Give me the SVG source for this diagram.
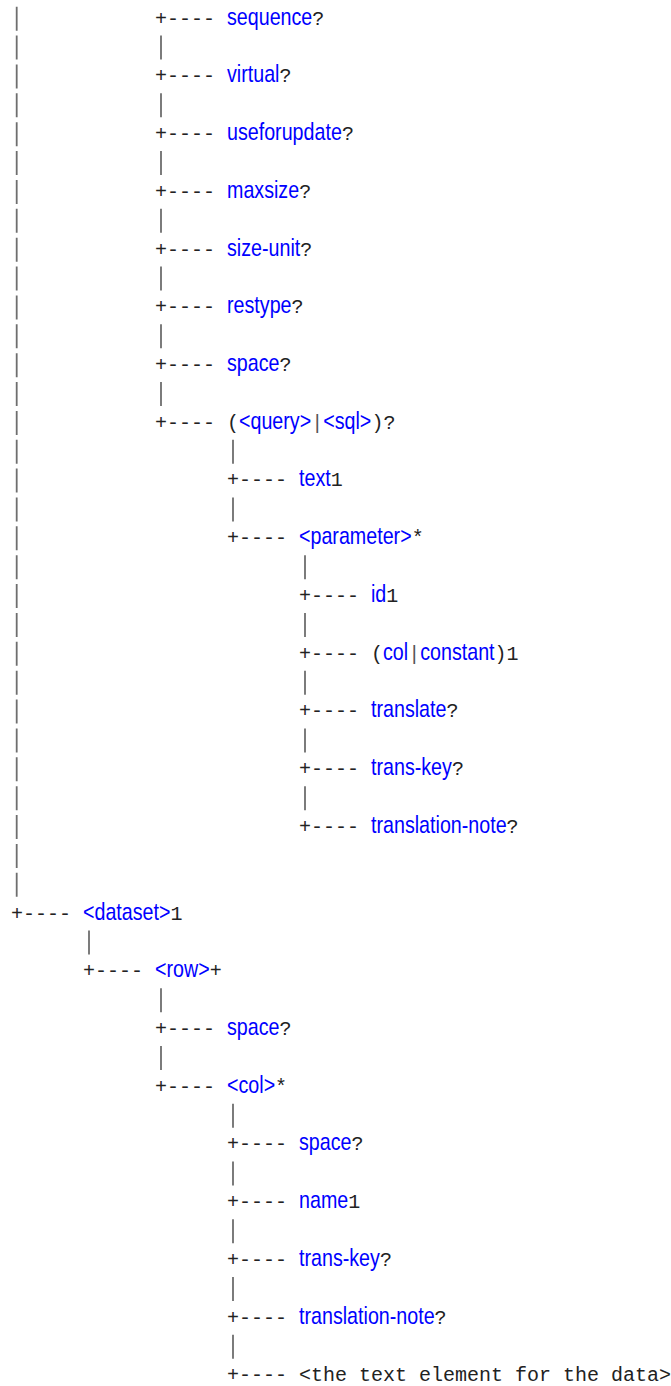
<svg xmlns="http://www.w3.org/2000/svg" width="671" height="1386" viewBox="0 0 671 1386">
<style>
.m{font-family:"Liberation Mono","DejaVu Sans Mono",monospace;font-size:20px;fill:#222;white-space:pre}
.s{font-family:"Liberation Mono","DejaVu Sans Mono",monospace;font-size:20px;fill:#555}
.b{font-family:"Liberation Sans",Arial,sans-serif;font-size:24px;fill:#0000ff}
.bar{stroke:#6e6e6e;stroke-width:1.8;fill:none}
</style>
<rect width="671" height="1386" fill="#fff"/>
<g id="connectors" class="bar">
<path d="M16.7 6.7V896.8" stroke-dasharray="24 4.87"/>
<path d="M161 35.6v24M161 93.3v24M161 151.1v24M161 208.8v24M161 266.5v24M161 324.3v24M161 382v24"/>
<path d="M233 439.8v24M233 497.5v24"/>
<path d="M305 555.2v24M305 613v24M305 670.7v24M305 728.5v24M305 786.2v24"/>
<path d="M89 930.5v24"/>
<path d="M161 988.3v24M161 1046v24"/>
<path d="M233 1103.8v24M233 1161.5v24M233 1219.2v24M233 1277v24M233 1334.7v24"/>
</g>
<g id="n-sequence"><text class="m" x="155" y="24.5">+----</text><text class="b" transform="translate(227 24.5) scale(0.82 1)">sequence</text><text class="m" x="312.3" y="24.5">?</text></g>
<g id="n-virtual"><text class="m" x="155" y="82.2">+----</text><text class="b" transform="translate(227 82.2) scale(0.82 1)">virtual</text><text class="m" x="279.5" y="82.2">?</text></g>
<g id="n-useforupdate"><text class="m" x="155" y="140">+----</text><text class="b" transform="translate(227 140) scale(0.82 1)">useforupdate</text><text class="m" x="341.9" y="140">?</text></g>
<g id="n-maxsize"><text class="m" x="155" y="197.7">+----</text><text class="b" transform="translate(227 197.7) scale(0.82 1)">maxsize</text><text class="m" x="299.2" y="197.7">?</text></g>
<g id="n-size-unit"><text class="m" x="155" y="255.5">+----</text><text class="b" transform="translate(227 255.5) scale(0.82 1)">size-unit</text><text class="m" x="300.3" y="255.5">?</text></g>
<g id="n-restype"><text class="m" x="155" y="313.2">+----</text><text class="b" transform="translate(227 313.2) scale(0.82 1)">restype</text><text class="m" x="291.5" y="313.2">?</text></g>
<g id="n-space1"><text class="m" x="155" y="370.9">+----</text><text class="b" transform="translate(227 370.9) scale(0.82 1)">space</text><text class="m" x="279.5" y="370.9">?</text></g>
<g id="n-query-sql"><text class="m" x="155" y="428.7">+---- (</text><text class="b" transform="translate(239 428.7) scale(0.82 1)">&lt;query&gt;</text><text class="s" x="311.2" y="428.7">|</text><text class="b" transform="translate(323.2 428.7) scale(0.82 1)">&lt;sql&gt;</text><text class="m" x="371.4" y="428.7">)?</text></g>
<g id="n-text"><text class="m" x="227" y="486.4">+----</text><text class="b" transform="translate(299 486.4) scale(0.82 1)">text</text><text class="m" x="330.7" y="486.4">1</text></g>
<g id="n-parameter"><text class="m" x="227" y="544.2">+----</text><text class="b" transform="translate(299 544.2) scale(0.82 1)">&lt;parameter&gt;</text><text class="m" x="411.7" y="544.2">*</text></g>
<g id="n-id"><text class="m" x="299" y="601.9">+----</text><text class="b" transform="translate(371 601.9) scale(0.82 1)">id</text><text class="m" x="386.3" y="601.9">1</text></g>
<g id="n-col-constant"><text class="m" x="299" y="659.6">+---- (</text><text class="b" transform="translate(383 659.6) scale(0.82 1)">col</text><text class="s" x="408.2" y="659.6">|</text><text class="b" transform="translate(420.2 659.6) scale(0.82 1)">constant</text><text class="m" x="494.5" y="659.6">)1</text></g>
<g id="n-translate"><text class="m" x="299" y="717.4">+----</text><text class="b" transform="translate(371 717.4) scale(0.82 1)">translate</text><text class="m" x="446.5" y="717.4">?</text></g>
<g id="n-trans-key1"><text class="m" x="299" y="775.1">+----</text><text class="b" transform="translate(371 775.1) scale(0.82 1)">trans-key</text><text class="m" x="451.9" y="775.1">?</text></g>
<g id="n-translation-note1"><text class="m" x="299" y="832.9">+----</text><text class="b" transform="translate(371 832.9) scale(0.82 1)">translation-note</text><text class="m" x="506.6" y="832.9">?</text></g>
<g id="n-dataset"><text class="m" x="11" y="919.5">+----</text><text class="b" transform="translate(83 919.5) scale(0.82 1)">&lt;dataset&gt;</text><text class="m" x="170.5" y="919.5">1</text></g>
<g id="n-row"><text class="m" x="83" y="977.2">+----</text><text class="b" transform="translate(155 977.2) scale(0.82 1)">&lt;row&gt;</text><text class="m" x="209.7" y="977.2">+</text></g>
<g id="n-space2"><text class="m" x="155" y="1035">+----</text><text class="b" transform="translate(227 1035) scale(0.82 1)">space</text><text class="m" x="279.5" y="1035">?</text></g>
<g id="n-col"><text class="m" x="155" y="1092.7">+----</text><text class="b" transform="translate(227 1092.7) scale(0.82 1)">&lt;col&gt;</text><text class="m" x="275.1" y="1092.7">*</text></g>
<g id="n-space3"><text class="m" x="227" y="1150.4">+----</text><text class="b" transform="translate(299 1150.4) scale(0.82 1)">space</text><text class="m" x="351.5" y="1150.4">?</text></g>
<g id="n-name"><text class="m" x="227" y="1208.2">+----</text><text class="b" transform="translate(299 1208.2) scale(0.82 1)">name</text><text class="m" x="348.2" y="1208.2">1</text></g>
<g id="n-trans-key2"><text class="m" x="227" y="1265.9">+----</text><text class="b" transform="translate(299 1265.9) scale(0.82 1)">trans-key</text><text class="m" x="379.9" y="1265.9">?</text></g>
<g id="n-translation-note2"><text class="m" x="227" y="1323.7">+----</text><text class="b" transform="translate(299 1323.7) scale(0.82 1)">translation-note</text><text class="m" x="434.6" y="1323.7">?</text></g>
<g id="n-text-element"><text class="m" x="227" y="1381.4">+---- &lt;the text element for the data&gt;</text></g>
</svg>
